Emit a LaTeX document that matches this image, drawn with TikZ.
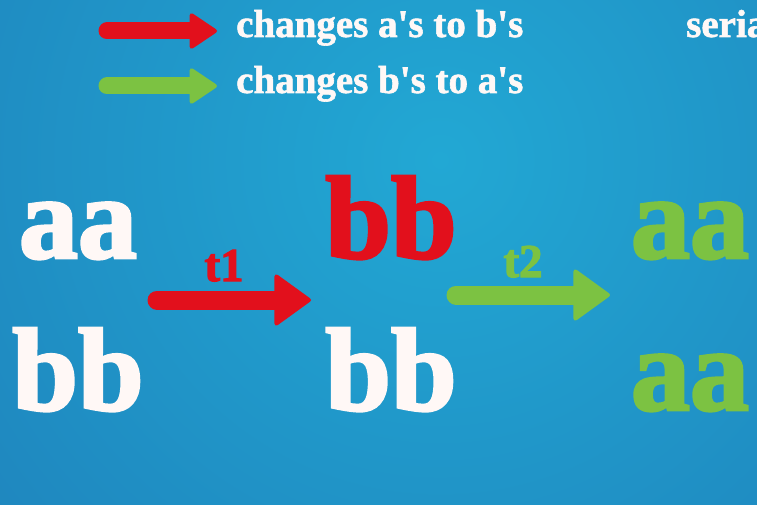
\documentclass[tikz,border=0pt]{standalone}
\usepackage{fontspec}
\setmainfont{Liberation Serif}
\newfontfamily\heavy{Liberation Serif}[UprightFeatures={FakeBold=2.5},BoldFeatures={FakeBold=2.5}]
\newfontfamily\medheavy{Liberation Serif}[BoldFeatures={FakeBold=1.5}]
\usetikzlibrary{arrows.meta,positioning,calc}
\definecolor{bgdark}{RGB}{28,112,176}
\definecolor{bglight}{RGB}{34,168,212}
\definecolor{chred}{RGB}{226,16,28}
\definecolor{chgreen}{RGB}{124,194,66}
\definecolor{chalk}{RGB}{255,248,246}
\newcommand{\apos}{\textquotesingle}

\begin{document}
\begin{tikzpicture}[x=1pt,y=-1pt,
  big/.style={font=\fontsize{118}{120}\heavy\bfseries,inner sep=0pt,anchor=base},
  legend/.style={font=\fontsize{39}{40}\medheavy\bfseries,text=chalk,inner sep=0pt,anchor=base west},
  lbl/.style={font=\fontsize{47}{48}\heavy\bfseries,inner sep=0pt,anchor=base},
  fat/.style={line width=19pt,line cap=round,-{Triangle[width=54pt,length=38pt,round,line width=4pt]}},
  fatsmall/.style={line width=17pt,line cap=round,-{Triangle[width=38pt,length=29pt,round,line width=4pt]}}]
\useasboundingbox (0,0) rectangle (757,505);
\clip (0,0) rectangle (757,505);
% background
\fill[bgdark] (0,0) rectangle (757,505);
\shade[inner color=bglight,outer color=bgdark] (440,160) circle (960);

% legend
\coordinate (redS) at (107,31);
\coordinate (redE) at (217,31);
\coordinate (greenS) at (107,86);
\coordinate (greenE) at (217,86);
\node[legend] (redTxt) at (236,37) {changes a\apos s to b\apos s};
\node[legend] (greenTxt) at (236,93) {changes b\apos s to a\apos s};
\node[legend] (serTxt) at (686,37) {seria};
\draw[fatsmall,chred] (redS) -- (redE);
\draw[fatsmall,chgreen] (greenS) -- (greenE);

% strings
\node[big,text=chalk] (aaL) at (78,258) {aa};
\node[big,text=chalk] (bbL) at (78,410) {bb};
\node[big,text=chred] (bbM) at (391,258) {bb};
\node[big,text=chalk] (bbM2) at (391,410) {bb};
\node[big,text=chgreen] (aaR) at (690,258) {aa};
\node[big,text=chgreen] (aaR2) at (690,410) {aa};

% steps
\coordinate (t1s) at (157,300);
\coordinate (t1e) at (311,300);
\coordinate (t2s) at (456,295);
\coordinate (t2e) at (610,295);
\draw[fat,chred] (t1s) -- (t1e);
\draw[fat,chgreen] (t2s) -- (t2e);
\node[lbl,text=chred] (t1) at (224,281) {t1};
\node[lbl,text=chgreen] (t2) at (523,277) {t2};
\end{tikzpicture}
\end{document}
